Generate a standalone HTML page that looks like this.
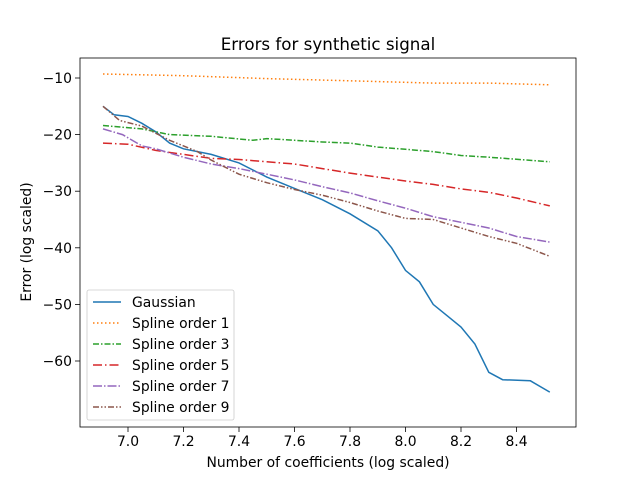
<!DOCTYPE html>
<html><head><meta charset="utf-8"><style>
body{margin:0;background:#fff}
svg{font-family:"DejaVu Sans","Liberation Sans",sans-serif}
</style></head><body>
<svg id="chart" width="640" height="480" viewBox="0 0 640 480">
<rect x="0" y="0" width="640" height="480" fill="#fff"/>
<text x="328" y="50" text-anchor="middle" font-size="16.7">Errors for synthetic signal</text>
<g id="plot"></g>
<rect x="80" y="58" width="496" height="369" fill="none" stroke="#000" stroke-width="0.8"/>
<text x="328" y="467" text-anchor="middle" font-size="13.9">Number of coefficients (log scaled)</text>
<text transform="translate(31,242) rotate(-90)" text-anchor="middle" font-size="13.9">Error (log scaled)</text>
</svg>
<script>
const xTicks=[7.0,7.2,7.4,7.6,7.8,8.0,8.2,8.4];
const yTicks=[-10,-20,-30,-40,-50,-60];
const seriesNames=["Gaussian","Spline order 1","Spline order 3","Spline order 5","Spline order 7","Spline order 9"];
const gaussX=[6.91,6.95,7.0,7.05,7.1,7.15,7.2,7.3,7.4,7.5,7.6,7.7,7.8,7.9,7.95,8.0,8.05,8.1,8.15,8.2,8.25,8.3,8.35,8.45,8.52];
const gaussY=[-15,-16.5,-16.8,-18,-19.5,-21.5,-22.5,-23.5,-25,-27.5,-29.5,-31.5,-34,-37,-40,-44,-46,-50,-52,-54,-57,-62,-63.3,-63.5,-65.5];
const s1X=[6.91,7.2,7.5,7.8,8.1,8.3,8.52];
const s1Y=[-9.3,-9.6,-10.1,-10.5,-10.9,-10.9,-11.2];
const s3X=[6.91,7.05,7.15,7.3,7.45,7.5,7.6,7.7,7.8,7.9,8.0,8.1,8.2,8.3,8.52];
const s3Y=[-18.4,-19,-20,-20.3,-21,-20.7,-21,-21.3,-21.5,-22.2,-22.6,-23,-23.7,-24,-24.8];
const s5X=[6.91,7.0,7.1,7.2,7.3,7.4,7.5,7.6,7.7,7.8,7.9,8.0,8.1,8.2,8.3,8.4,8.52];
const s5Y=[-21.5,-21.7,-22.8,-23.5,-24.2,-24.4,-24.8,-25.2,-26,-26.8,-27.5,-28.2,-28.8,-29.6,-30.2,-31.2,-32.6];
const s7X=[6.91,6.98,7.05,7.1,7.2,7.3,7.4,7.5,7.6,7.7,7.8,7.9,8.0,8.1,8.2,8.3,8.4,8.52];
const s7Y=[-19,-20,-22,-22.5,-24,-25.2,-26,-27,-28,-29.2,-30.3,-31.7,-33,-34.5,-35.5,-36.5,-38,-39];
const s9X=[6.91,6.97,7.05,7.15,7.25,7.3,7.4,7.5,7.6,7.7,7.8,7.9,8.0,8.1,8.2,8.3,8.4,8.52];
const s9Y=[-15,-17.5,-18.5,-21,-23,-24.5,-27,-28.5,-29.7,-30.7,-32,-33.5,-34.8,-35,-36.5,-38,-39.2,-41.5];

const NS="http://www.w3.org/2000/svg";
const xs=v=>128+(v-7.0)*277.5;
const ys=v=>78+(-10-v)*5.66;
const plot=document.getElementById('plot');
function mk(t,a){const e=document.createElementNS(NS,t);for(const k in a)e.setAttribute(k,a[k]);return e;}
xTicks.forEach(t=>{
  const g=mk('g',{});
  
  
  g.appendChild(mk('line',{x1:xs(t),x2:xs(t),y1:427,y2:432,stroke:'#000','stroke-width':0.8}));
  const tx=mk('text',{x:xs(t),y:446,'text-anchor':'middle','font-size':13.9});tx.textContent=t.toFixed(1);g.appendChild(tx);
  plot.appendChild(g);
});
yTicks.forEach(t=>{
  const g=mk('g',{});
  
  
  g.appendChild(mk('line',{x1:75,x2:80,y1:ys(t),y2:ys(t),stroke:'#000','stroke-width':0.8}));
  const tx=mk('text',{x:72,y:ys(t)+5,'text-anchor':'end','font-size':13.9});tx.textContent='\u2212'+Math.abs(t);g.appendChild(tx);
  plot.appendChild(g);
});
const styles=[
 {c:'#1f77b4',d:''},
 {c:'#ff7f0e',d:'1.5,2.5'},
 {c:'#2ca02c',d:'6,2,1.5,2'},
 {c:'#d62728',d:'9,3,1.5,3'},
 {c:'#9467bd',d:'9,2,1.5,2'},
 {c:'#8c564b',d:'6,2,1.5,2,1.5,2'}];
const all=[[gaussX,gaussY],[s1X,s1Y],[s3X,s3Y],[s5X,s5Y],[s7X,s7Y],[s9X,s9Y]];
all.forEach((s,i)=>{
  const pts=s[0].map((x,j)=>xs(x).toFixed(1)+','+ys(s[1][j]).toFixed(1)).join(' ');
  const p=mk('polyline',{points:pts,fill:'none',stroke:styles[i].c,'stroke-width':1.5});
  if(styles[i].d)p.setAttribute('stroke-dasharray',styles[i].d);
  
  
  plot.appendChild(p);
});
const lg=mk('g',{});


lg.appendChild(mk('rect',{x:87,y:290,width:147,height:130,rx:2,fill:'#fff','fill-opacity':0.8,stroke:'#ccc','stroke-width':0.8}));
seriesNames.forEach((n,i)=>{
  const y=302+i*21;
  const e=mk('g',{});
  
  
  const l=mk('line',{x1:93,x2:121,y1:y,y2:y,stroke:styles[i].c,'stroke-width':1.5});
  if(styles[i].d)l.setAttribute('stroke-dasharray',styles[i].d);
  e.appendChild(l);
  const t=mk('text',{x:132,y:y+5,'font-size':13.9});t.textContent=n;e.appendChild(t);
  lg.appendChild(e);
});
plot.appendChild(lg);
</script>
</body></html>
